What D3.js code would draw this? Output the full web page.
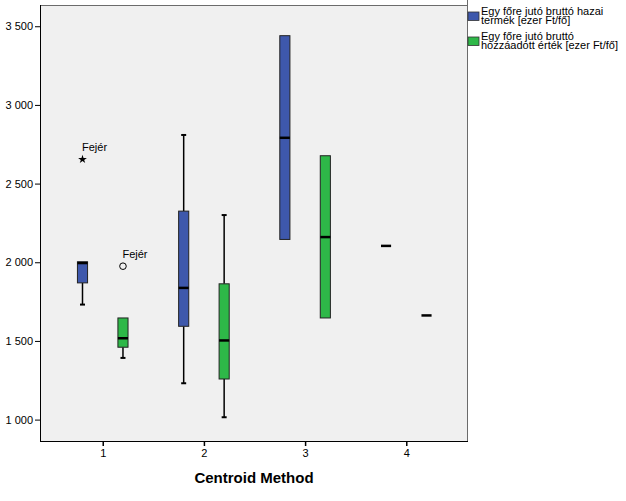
<!DOCTYPE html>
<html><head><meta charset="utf-8">
<script src="https://cdn.jsdelivr.net/npm/d3@7"></script>
<style>body{margin:0;background:#fff}svg{display:block;font-family:"Liberation Sans",Arial,sans-serif}</style>
</head><body>
<svg id="c" width="626" height="501"></svg>
<script>
const categories = [1, 2, 3, 4];
const seriesNames = ["Egy főre jutó bruttó hazai termék [ezer Ft/fő]", "Egy főre jutó bruttó hozzáadott érték [ezer Ft/fő]"];
const legendLines = [["Egy főre jutó bruttó hazai", "termék [ezer Ft/fő]"], ["Egy főre jutó bruttó", "hozzáadott érték [ezer Ft/fő]"]];
const seriesColors = ["#3E58AC", "#2EB848"];
// [min, q1, median, q3, max] per category
const gdpStats = [[1731, 1869, 1995, 2003, 2003], [1231, 1593, 1837, 2325, 2809], [2145, 2145, 2791, 3440, 3440], [2104, 2104, 2104, 2104, 2104]];
const gvaStats = [[1392, 1460, 1517, 1646, 1646], [1015, 1258, 1503, 1863, 2300], [1646, 1646, 2160, 2677, 2677], [1662, 1662, 1662, 1662, 1662]];
// outliers: [category, seriesIndex, value, type, label]
const outliers = [[1, 0, 2654, "extreme", "Fejér"], [1, 1, 1975, "outlier", "Fejér"]];
const yTicks = [1000, 1500, 2000, 2500, 3000, 3500];
const xLabel = "Centroid Method";

const svg = d3.select("#c");
const L = 40, R = 468, T = 5, B = 441;
const x = d3.scaleLinear().domain([0.38, 4.61]).range([L, R]);
const y = d3.scaleLinear().domain([864, 3635]).range([B, T]);
const offs = [-0.2, 0.2], bw = 0.1;
const fmt = v => d3.format(",")(v).replace(/,/g, " ");

svg.append("rect").attr("x", L).attr("y", T).attr("width", R - L).attr("height", B - T).attr("fill", "#F0F0F0");
svg.append("line").attr("x1", L).attr("x2", R).attr("y1", T + 0.5).attr("y2", T + 0.5).attr("stroke", "#6b6b6b");
svg.append("line").attr("x1", R - 0.5).attr("x2", R - 0.5).attr("y1", 0).attr("y2", B).attr("stroke", "#6b6b6b");

const all = [gdpStats, gvaStats];
all.forEach((stats, si) => {
  stats.forEach((s, ci) => {
    const c = categories[ci] + offs[si];
    const cx = x(c), x0 = x(c - bw / 2), x1 = x(c + bw / 2);
    const g = svg.append("g");
    const capW = 5;
    if (s[0] < s[1]) {
      g.append("line").attr("x1", cx).attr("x2", cx).attr("y1", y(s[1])).attr("y2", y(s[0])).attr("stroke", "#000").attr("stroke-width", 1.5);
      g.append("line").attr("x1", cx - capW / 2).attr("x2", cx + capW / 2).attr("y1", y(s[0])).attr("y2", y(s[0])).attr("stroke", "#000").attr("stroke-width", 2);
    }
    if (s[4] > s[3]) {
      g.append("line").attr("x1", cx).attr("x2", cx).attr("y1", y(s[4])).attr("y2", y(s[3])).attr("stroke", "#000").attr("stroke-width", 1.5);
      g.append("line").attr("x1", cx - capW / 2).attr("x2", cx + capW / 2).attr("y1", y(s[4])).attr("y2", y(s[4])).attr("stroke", "#000").attr("stroke-width", 2);
    }
    if (s[3] > s[1]) {
      g.append("rect").attr("x", x0).attr("y", y(s[3])).attr("width", x1 - x0).attr("height", y(s[1]) - y(s[3]))
        .attr("fill", seriesColors[si]).attr("stroke", "#222").attr("stroke-width", 1);
    }
    g.append("line").attr("x1", x0).attr("x2", x1).attr("y1", y(s[2])).attr("y2", y(s[2])).attr("stroke", "#000").attr("stroke-width", 2.5);
  });
});

outliers.forEach(o => {
  const cx = x(o[0] + offs[o[1]]), cy = y(o[2]);
  if (o[3] === "extreme") {
    svg.append("path").attr("d", d3.symbol(d3.symbolStar, 24)()).attr("transform", `translate(${cx},${cy})`).attr("fill", "#000");
  } else {
    svg.append("circle").attr("cx", cx).attr("cy", cy).attr("r", 3.3).attr("fill", "none").attr("stroke", "#000").attr("stroke-width", 1);
  }
  svg.append("text").attr("x", cx - 0.5).attr("y", cy - 8.5).attr("font-size", 11).attr("fill", "#000").text(o[4]);
});

// Axes
const yAxis = d3.axisLeft(y).tickValues(yTicks).tickFormat(fmt).tickSize(5).tickPadding(2);
const ya = svg.append("g").attr("transform", `translate(${L},0)`).call(yAxis);
ya.select(".domain").attr("d", `M0.5,${T}V${B}`).attr("stroke", "#000");
ya.selectAll(".tick line").attr("stroke", "#000").attr("x1", 0);
ya.selectAll(".tick text").attr("font-size", 11).attr("font-family", "Liberation Sans, Arial").attr("fill", "#000");

const xAxis = d3.axisBottom(x).tickValues(categories).tickFormat(d3.format("d")).tickSize(5).tickPadding(3);
const xa = svg.append("g").attr("transform", `translate(0,${B})`).call(xAxis);
xa.select(".domain").attr("d", `M${L},0.5H${R}`).attr("stroke", "#000");
xa.selectAll(".tick line").attr("stroke", "#000").attr("stroke-width", 1.5);
xa.selectAll(".tick text").attr("font-size", 11).attr("font-family", "Liberation Sans, Arial").attr("fill", "#000");

svg.append("text").attr("x", (L + R) / 2).attr("y", 483).attr("text-anchor", "middle").attr("font-size", 15).attr("font-weight", "bold").attr("fill", "#000").text(xLabel);

// Legend
const lg = svg.append("g");
seriesNames.forEach((n, i) => {
  const y0 = 12 + i * 25;
  lg.append("rect").attr("x", R).attr("y", y0).attr("width", 11).attr("height", 8.5).attr("fill", seriesColors[i]).attr("stroke", "#333").attr("stroke-width", 0.8);
  const t = lg.append("text").attr("x", 481).attr("y", y0 + 2.5).attr("font-size", 11).attr("fill", "#000");
  legendLines[i].forEach((line, j) => {
    t.append("tspan").attr("x", 481).attr("dy", j === 0 ? 0 : 9.5).text(line);
  });
});
</script>
</body></html>
